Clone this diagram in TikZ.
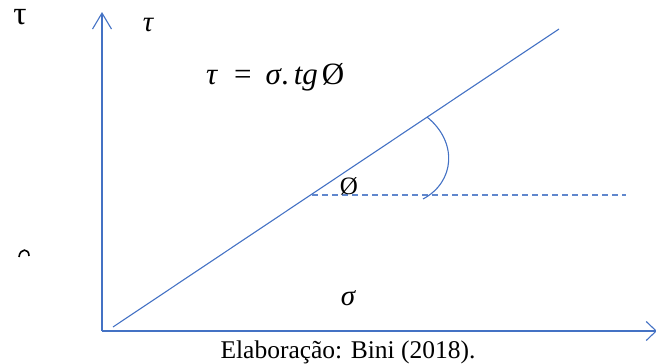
\documentclass[tikz,border=0pt]{standalone}
\usepackage{fontspec}
\setmainfont{Liberation Serif}
\usepackage{tikz}
\usetikzlibrary{arrows.meta,positioning,calc}
\definecolor{axisblue}{HTML}{4472C4}
\tikzset{
  axis/.style={draw=axisblue,line width=1.3pt},
  yhead/.style={-{Straight Barb[length=16pt,width=19pt,line width=1.1pt]}},
  xhead/.style={-{Straight Barb[length=10pt,width=19pt,line width=1.1pt]}},
  envelope/.style={draw=axisblue,line width=1.1pt},
  horizon/.style={draw=axisblue!85,line width=1.1pt,dash pattern=on 6pt off 4pt},
  greek/.style={font=\fontsize{29}{34}\selectfont\itshape,inner sep=0pt},
  formula/.style={font=\fontsize{31}{36}\selectfont,inner sep=0pt},
  caption/.style={font=\fontsize{25.5}{30}\selectfont,inner sep=0pt}
}
\begin{document}
\begin{tikzpicture}[x=1pt,y=-1pt]
  \useasboundingbox (0,0) rectangle (656,364);
  % axes
  \coordinate (origin) at (102,331);
  \coordinate (ytip) at (102,12);
  \coordinate (xtip) at (657,331);
  \draw[axis,yhead] (origin) -- (ytip);
  \draw[axis,xhead] (origin) -- (xtip);
  % failure envelope and friction angle
  \coordinate (envstart) at (113,327);
  \coordinate (envend) at (559,29);
  \draw[envelope] (envstart) -- (envend);
  \coordinate (hstart) at (312,195);
  \coordinate (hend) at (626,195);
  \draw[horizon] (hstart) -- (hend);
  \coordinate (arcstart) at (427,117);
  \coordinate (arcend) at (423,199);
  \draw[envelope] (arcstart) .. controls (458,142) and (455,182) .. (arcend);
  % labels
  \node[inner sep=0pt,font=\fontsize{33}{36}\selectfont] (taucorner) at (20,17) {τ};
  \node[greek] (tauaxis) at (148,25) {τ};
  \node[formula,anchor=west] (law) at (206,77)
    {\textit{τ}\hspace{16pt}=\hspace{14pt}\textit{σ}.\hspace{5pt}\textit{tg}\hspace{4pt}Ø};
  \node[inner sep=0pt,font=\fontsize{25}{30}\selectfont] (phi) at (349,186) {Ø};
  \node[greek] (sigma) at (348,298) {σ};
  \node[caption,anchor=base] (source) at (348,358) {Elaboração: Bini (2018).};
  % clipped glyph on the left
  \draw[line width=1.6pt] (19,257) .. controls (20,248) and (29,248) .. (29,256);
\end{tikzpicture}
\end{document}
